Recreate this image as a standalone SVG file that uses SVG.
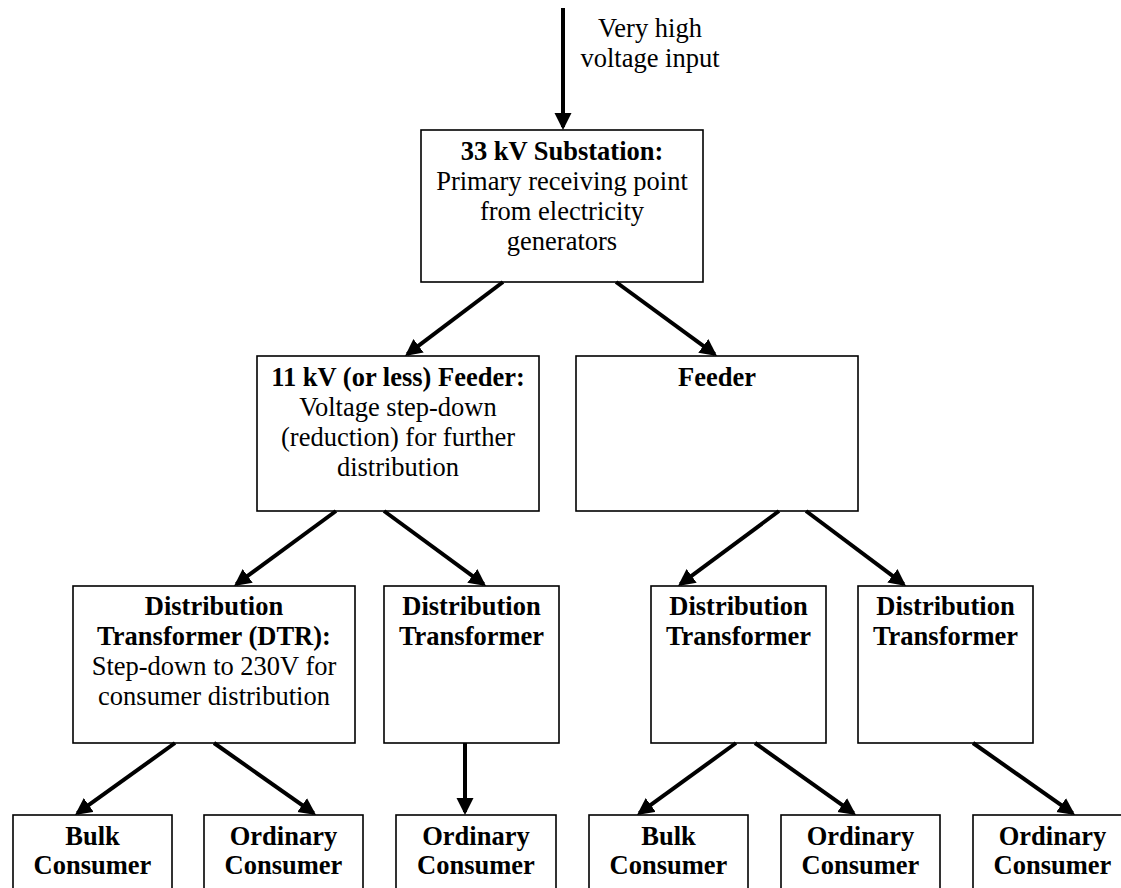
<svg xmlns="http://www.w3.org/2000/svg" width="1121" height="888" viewBox="0 0 1121 888">
  <style>
    .box { fill: #fff; stroke: #000; stroke-width: 1.6; }
    .t { font-family: "Liberation Serif", "Times New Roman", serif; font-size: 26.5px; fill: #000; text-anchor: middle; }
    .b { font-weight: bold; }
    .wire { fill: none; stroke: #000; stroke-width: 4; marker-end: url(#head); }
  </style>
  <defs>
    <marker id="head" markerUnits="userSpaceOnUse" markerWidth="18" markerHeight="18" refX="14" refY="8.5" orient="auto">
      <path d="M0,0 L17,8.5 L0,17 z" fill="#000"/>
    </marker>
  </defs>
  <rect width="1121" height="888" fill="#fff"/>

  <!-- incoming supply label -->
  <g id="input-label">
    <text class="t" x="650" y="37">Very high</text>
    <text class="t" x="650" y="67">voltage input</text>
  </g>

  <g id="substation">
    <rect class="box" x="421" y="130" width="282" height="152"/>
    <text class="t b" x="562" y="160">33 kV Substation:</text>
    <text class="t" x="562" y="190">Primary receiving point</text>
    <text class="t" x="562" y="220">from electricity</text>
    <text class="t" x="562" y="250">generators</text>
  </g>

  <g id="feeder-11kv">
    <rect class="box" x="257" y="356" width="282" height="155"/>
    <text class="t b" x="398" y="386">11 kV (or less) Feeder:</text>
    <text class="t" x="398" y="416">Voltage step-down</text>
    <text class="t" x="398" y="446">(reduction) for further</text>
    <text class="t" x="398" y="476">distribution</text>
  </g>

  <g id="feeder">
    <rect class="box" x="576" y="356" width="282" height="155"/>
    <text class="t b" x="717" y="386">Feeder</text>
  </g>

  <g id="dtr">
    <rect class="box" x="73" y="586" width="282" height="157"/>
    <text class="t b" x="214" y="615">Distribution</text>
    <text class="t b" x="214" y="645">Transformer (DTR):</text>
    <text class="t" x="214" y="675">Step-down to 230V for</text>
    <text class="t" x="214" y="705">consumer distribution</text>
  </g>

  <g id="dt-2">
    <rect class="box" x="384" y="586" width="175" height="157"/>
    <text class="t b" x="471.5" y="615">Distribution</text>
    <text class="t b" x="471.5" y="645">Transformer</text>
  </g>

  <g id="dt-3">
    <rect class="box" x="651" y="586" width="175" height="157"/>
    <text class="t b" x="738.5" y="615">Distribution</text>
    <text class="t b" x="738.5" y="645">Transformer</text>
  </g>

  <g id="dt-4">
    <rect class="box" x="858" y="586" width="175" height="157"/>
    <text class="t b" x="945.5" y="615">Distribution</text>
    <text class="t b" x="945.5" y="645">Transformer</text>
  </g>

  <g id="bulk-1">
    <rect class="box" x="13" y="815" width="159" height="100"/>
    <text class="t b" x="92.5" y="845">Bulk</text>
    <text class="t b" x="92.5" y="874">Consumer</text>
  </g>

  <g id="ordinary-1">
    <rect class="box" x="204" y="815" width="159" height="100"/>
    <text class="t b" x="283.5" y="845">Ordinary</text>
    <text class="t b" x="283.5" y="874">Consumer</text>
  </g>

  <g id="ordinary-2">
    <rect class="box" x="396" y="815" width="160" height="100"/>
    <text class="t b" x="476" y="845">Ordinary</text>
    <text class="t b" x="476" y="874">Consumer</text>
  </g>

  <g id="bulk-2">
    <rect class="box" x="589" y="815" width="159" height="100"/>
    <text class="t b" x="668.5" y="845">Bulk</text>
    <text class="t b" x="668.5" y="874">Consumer</text>
  </g>

  <g id="ordinary-3">
    <rect class="box" x="781" y="815" width="159" height="100"/>
    <text class="t b" x="860.5" y="845">Ordinary</text>
    <text class="t b" x="860.5" y="874">Consumer</text>
  </g>

  <g id="ordinary-4">
    <rect class="box" x="973" y="815" width="159" height="100"/>
    <text class="t b" x="1052.5" y="845">Ordinary</text>
    <text class="t b" x="1052.5" y="874">Consumer</text>
  </g>

  <!-- supply flow arrows -->
  <g id="connectors">
    <path class="wire" d="M563,8 L563,127"/>
    <path class="wire" d="M503,282 L407.4,354.2"/>
    <path class="wire" d="M616,282 L714.6,354.2"/>
    <path class="wire" d="M336,511 L236.4,584.2"/>
    <path class="wire" d="M384,511 L483.6,584.2"/>
    <path class="wire" d="M779,511 L680.4,584.2"/>
    <path class="wire" d="M806,511 L903.6,584.2"/>
    <path class="wire" d="M175,743 L77.4,813.2"/>
    <path class="wire" d="M214,743 L313.6,813.2"/>
    <path class="wire" d="M465,743 L465,812"/>
    <path class="wire" d="M736,743 L639.4,813.2"/>
    <path class="wire" d="M755,743 L853.6,813.2"/>
    <path class="wire" d="M973,743 L1072.6,813.2"/>
  </g>
</svg>
